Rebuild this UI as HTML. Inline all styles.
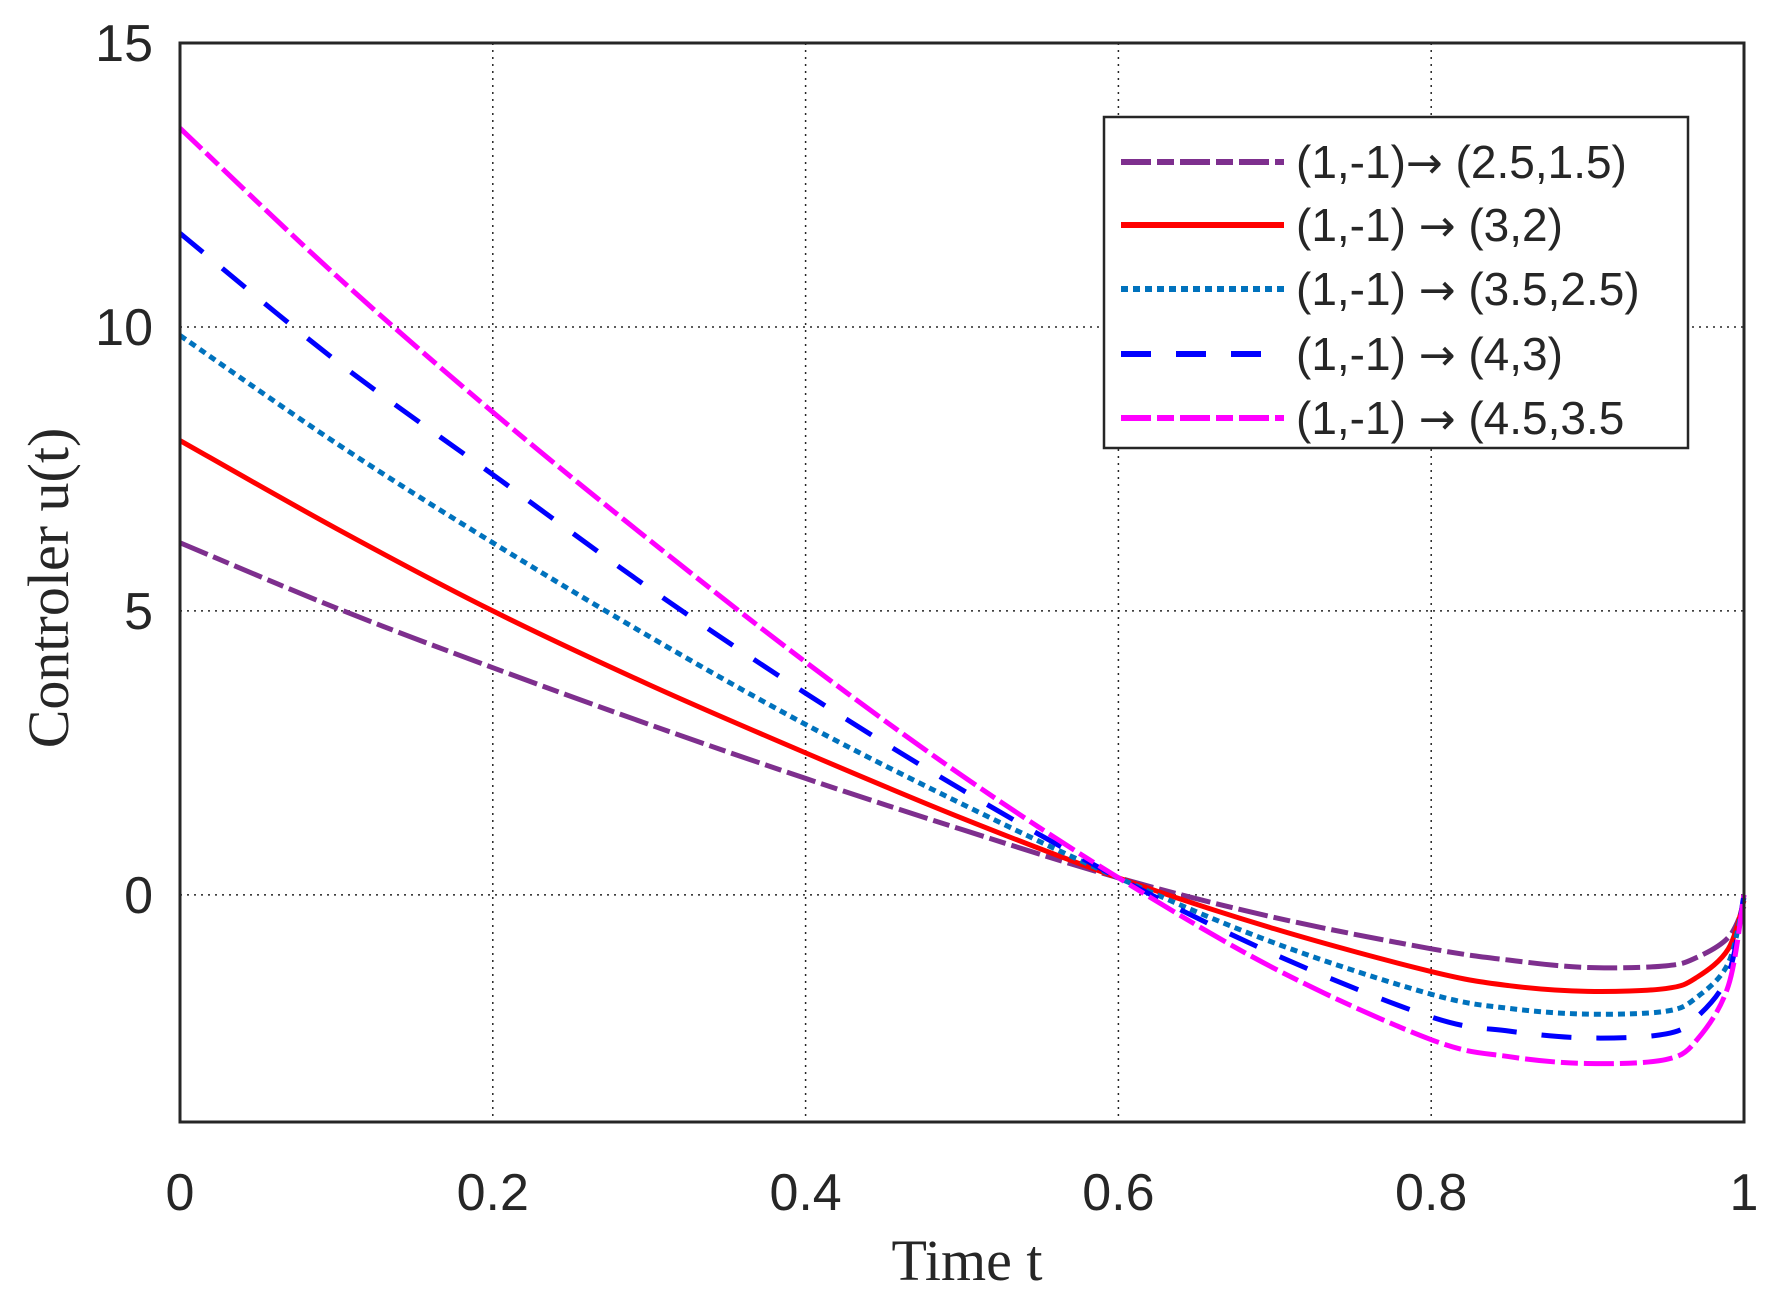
<!DOCTYPE html>
<html><head><meta charset="utf-8"><style>
html,body{margin:0;padding:0;background:#fff;}
svg{display:block;}
</style></head><body>
<svg id="chart" width="1771" height="1310" xmlns="http://www.w3.org/2000/svg">
<g id="grid"></g>
<g id="series"></g>
<rect x="180" y="43" width="1564" height="1079" fill="none" stroke="#262626" stroke-width="3"/>
<g id="ticks" font-family="Liberation Sans, sans-serif" font-size="52" fill="#262626"></g>
<text x="967" y="1280" font-family="Liberation Serif, serif" font-size="58" text-anchor="middle" fill="#262626">Time t</text>
<text x="0" y="0" transform="translate(68,588) rotate(-90)" font-family="Liberation Serif, serif" font-size="58" text-anchor="middle" fill="#262626">Controler u(t)</text>
<g id="legend">
<rect x="1104" y="117" width="584" height="331" fill="#fff" stroke="#262626" stroke-width="2.5"/>
</g>
</svg>
<script>
const tVals=[0,0.1,0.2,0.3,0.4,0.5,0.6,0.7,0.8,0.85,0.9,0.95,0.97,0.99,1];
const sPurple=[6.2,5.05,4.0,3.0,2.05,1.15,0.3,-0.4,-0.95,-1.15,-1.28,-1.25,-1.1,-0.75,-0.2];
const sRed=[8.0,6.45,5.0,3.7,2.5,1.35,0.3,-0.6,-1.35,-1.6,-1.7,-1.65,-1.45,-0.95,-0.1];
const sCyan=[9.85,7.95,6.2,4.55,3.0,1.6,0.3,-0.85,-1.75,-2.0,-2.1,-2.05,-1.8,-1.2,-0.05];
const sBlue=[11.65,9.4,7.4,5.4,3.55,1.85,0.3,-1.05,-2.15,-2.4,-2.52,-2.45,-2.15,-1.4,0];
const sMagenta=[13.5,10.9,8.5,6.25,4.1,2.1,0.3,-1.3,-2.55,-2.85,-2.97,-2.9,-2.55,-1.6,0];
const xTicks=[0,0.2,0.4,0.6,0.8,1];
const xTickLabels=["0","0.2","0.4","0.6","0.8","1"];
const yTicks=[0,5,10,15];
const yTickLabels=["0","5","10","15"];
const legendPre=["(1,-1)","(1,-1) ","(1,-1) ","(1,-1) ","(1,-1) "];
const legendPost=[" (2.5,1.5)"," (3,2)"," (3.5,2.5)"," (4,3)"," (4.5,3.5"];

const NS="http://www.w3.org/2000/svg";
const X0=180,X1=1744,Y0=43,Y1=1122,YMIN=-4,YMAX=15;
const xs=v=>X0+(v-0)/(1-0)*(X1-X0);
const ys=v=>Y1-(v-YMIN)/(YMAX-YMIN)*(Y1-Y0);
function mk(tag,attrs,parent){const e=document.createElementNS(NS,tag);for(const k in attrs)e.setAttribute(k,attrs[k]);parent.appendChild(e);return e;}

const grid=document.getElementById('grid');
xTicks.forEach(v=>{if(v>0&&v<1){const l=mk('line',{x1:xs(v),x2:xs(v),y1:Y0,y2:Y1,stroke:'#262626','stroke-width':1.5,'stroke-dasharray':'2 5'},grid);

}});
yTicks.forEach(v=>{if(v<15){const l=mk('line',{x1:X0,x2:X1,y1:ys(v),y2:ys(v),stroke:'#262626','stroke-width':1.5,'stroke-dasharray':'2 5'},grid);

}});

const ticks=document.getElementById('ticks');
xTicks.forEach((v,i)=>{const t=mk('text',{x:xs(v),y:1210,'text-anchor':'middle'},ticks);t.textContent=xTickLabels[i];

});
yTicks.forEach((v,i)=>{const t=mk('text',{x:153,y:ys(v)+18,'text-anchor':'end'},ticks);t.textContent=yTickLabels[i];

});

function pathD(vals){const p=tVals.map((t,i)=>[xs(t),ys(vals[i])]);let d='M'+p[0][0]+','+p[0][1];
for(let i=0;i<p.length-1;i++){const a=p[Math.max(0,i-1)],b=p[i],c=p[i+1],e=p[Math.min(p.length-1,i+2)];
const c1=[b[0]+(c[0]-a[0])/6,b[1]+(c[1]-a[1])/6],c2=[c[0]-(e[0]-b[0])/6,c[1]-(e[1]-b[1])/6];
d+=' C'+c1[0]+','+c1[1]+' '+c2[0]+','+c2[1]+' '+c[0]+','+c[1];}return d;}

const styles=[
{vals:sPurple,color:'#7E2F8E',dash:'30 6 17 6',name:'series-purple'},
{vals:sRed,color:'#FF0000',dash:'none',name:'series-red'},
{vals:sCyan,color:'#0072BD',dash:'7 5',name:'series-cyan'},
{vals:sBlue,color:'#0000FF',dash:'30 25',name:'series-blue'},
{vals:sMagenta,color:'#FF00FF',dash:'30 6 17 6',name:'series-magenta'}];
const sg=document.getElementById('series');
styles.forEach(s=>{const p=mk('path',{d:pathD(s.vals),fill:'none',stroke:s.color,'stroke-width':5,'stroke-dasharray':s.dash},sg);

});

const lg=document.getElementById('legend');
const rowY=[162,225,289,354,418];
styles.forEach((s,i)=>{const l=mk('line',{x1:1121,x2:1284,y1:rowY[i],y2:rowY[i],stroke:s.color,'stroke-width':6,'stroke-dasharray':s.dash},lg);


const t=mk('text',{x:1296,y:rowY[i]+16,'font-family':'Liberation Sans, DejaVu Sans, sans-serif','font-size':46,fill:'#262626'},lg);


const a=mk('tspan',{},t);a.textContent=legendPre[i];
const b=mk('tspan',{'font-family':'DejaVu Sans, sans-serif','font-size':44},t);b.textContent='\u2192';
const c=mk('tspan',{},t);c.textContent=legendPost[i];});
</script>
</body></html>
